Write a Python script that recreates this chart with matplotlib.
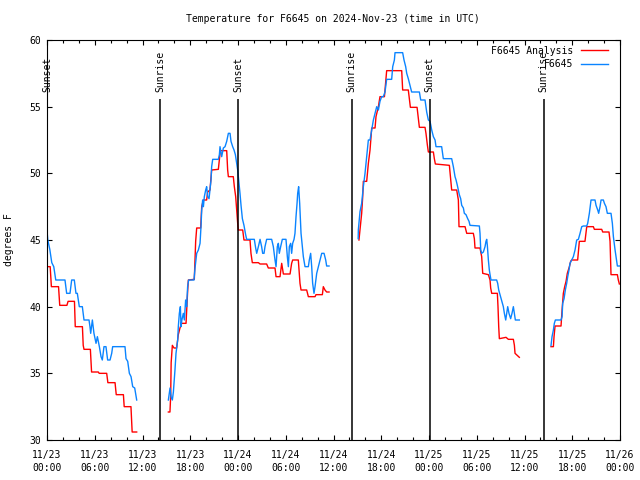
import numpy as np
import matplotlib
matplotlib.use("Agg")
import matplotlib.pyplot as plt

nan = np.nan

# hours since 2024-11-23 00:00 UTC
analysis_hours = [
    0.0, 0.4, 0.55, 1.45, 1.6, 2.5, 2.65, 3.45, 3.55, 4.45, 4.55, 4.65, 5.45, 5.6, 6.45, 6.55,
    7.5, 7.65, 8.55, 8.7, 9.6, 9.7, 10.55, 10.7, 11.27, nan,
    15.25, 15.45, 15.54, 15.6, 15.75, 15.96, 16.29, 16.5, 16.71, 16.92, 17.47, 17.55, 17.68,
    17.76, 18.51, 18.68, 18.81, 19.31, 19.44, 19.65, 20.06, 20.19, 20.48, 20.69, 21.53, 21.66,
    21.78, 22.58, 22.7, 22.79, 23.41, 23.54, 23.71, 23.83, 23.96, 24.04, 24.59, 24.75, 25.51,
    25.63, 25.8, 26.56, 26.77, 27.6, 27.81, 28.65, 28.78, 29.28, 29.49, 29.7, 30.54, 30.74,
    30.87, 31.58, 31.79, 31.92, 32.63, 32.84, 33.68, 33.8, 34.6, 34.72, 34.93, 35.14, 35.44, nan,
    39.2, 39.33, 39.54, 39.67, 39.75, 40.17, 40.38, 40.59, 40.68, 40.8, 41.22, 41.34, 41.64,
    41.84, 42.4, 42.55, 42.68, 44.57, 44.69, 45.4, 45.5, 45.66, 46.5, 46.66, 46.79, 47.5, 47.62,
    47.8, 47.92, 48.55, 48.67, 48.8, 50.56, 50.72, 50.85, 51.48, 51.69, 51.77, 52.53, 52.74,
    53.57, 53.7, 53.78, 54.41, 54.62, 54.75, 55.46, 55.67, 55.75, 55.88, 56.59, 56.67, 56.76,
    56.84, 57.68, 57.97, 58.6, 58.73, 58.81, 59.35, nan,
    63.33, 63.63, 63.71, 63.84, 64.59, 64.72, 64.88, 65.05, 65.22, 65.38, 65.64, 65.8, 65.93,
    66.68, 66.89, 67.6, 67.82, 68.65, 68.78, 69.7, 69.83, 70.62, 70.75, 70.87, 71.67, 71.79, 71.92,
]
analysis_temps = [
    43.0, 43.0, 41.5, 41.5, 40.1, 40.1, 40.4, 40.4, 38.5, 38.5, 37.1, 36.8, 36.8, 35.1, 35.1, 35.0,
    35.0, 34.3, 34.3, 33.4, 33.4, 32.5, 32.5, 30.6, 30.6, nan,
    32.1, 32.1, 33.3, 35.8, 37.1, 36.9, 36.9, 37.9, 38.4, 38.75, 38.75, 39.75, 41.25,
    42.0, 42.05, 44.9, 45.9, 45.9, 47.5, 48.0, 48.0, 48.6, 48.75, 50.25, 50.3, 51.0,
    51.7, 51.7, 50.25, 49.75, 49.75, 49.0, 48.25, 47.25, 46.25, 45.75, 45.75, 45.0, 45.0,
    44.0, 43.3, 43.3, 43.2, 43.2, 42.9, 42.9, 42.25, 42.25, 43.25, 42.45, 42.45, 43.25,
    43.5, 43.5, 41.75, 41.25, 41.25, 40.75, 40.75, 40.9, 40.9, 41.5, 41.25, 41.1, 41.1, nan,
    45.0, 45.75, 47.0, 48.25, 49.4, 49.4, 50.75, 51.75, 52.5, 53.4, 53.4, 54.25, 55.0,
    55.75, 55.75, 56.75, 57.7, 57.7, 56.25, 56.25, 55.75, 54.95, 54.95, 54.1, 53.45, 53.45, 53.0,
    52.1, 51.6, 51.6, 51.1, 50.7, 50.6, 49.6, 48.75, 48.75, 48.0, 46.0, 46.0, 45.5,
    45.5, 45.1, 44.4, 44.4, 43.75, 42.5, 42.4, 42.0, 41.4, 41.0, 41.0, 40.0, 38.5,
    37.6, 37.7, 37.55, 37.55, 37.1, 36.5, 36.2, nan,
    37.0, 37.0, 37.75, 38.55, 38.55, 39.75, 41.0, 41.5, 41.9, 42.5, 43.0, 43.4, 43.5,
    43.5, 44.9, 44.9, 46.0, 46.0, 45.8, 45.8, 45.6, 45.6, 44.9, 42.4, 42.4, 42.0, 41.7,
]

obs_hours = [
    0.0, 0.1, 0.35, 0.6, 0.85, 1.1, 2.26, 2.47, 2.89, 3.1, 3.43, 3.64, 3.81, 4.06, 4.44, 4.65,
    5.28, 5.4, 5.49, 5.7, 5.9, 6.16, 6.33, 6.58, 6.79, 6.95, 7.16, 7.41, 7.62, 7.92, 8.13, 8.25,
    9.8, 9.93, 10.14, 10.35, 10.56, 10.77, 11.02, 11.27, nan,
    15.25, 15.46, 15.6, 15.75, 15.88, 16.08, 16.21, 16.42, 16.5, 16.63, 16.76, 16.84, 16.95,
    17.13, 17.26, 17.42, 17.55, 17.67, 17.8, 18.47, 18.6, 18.81, 19.02, 19.23, 19.35, 19.44,
    19.56, 19.65, 19.77, 19.94, 20.06, 20.19, 20.36, 20.48, 20.61, 20.69, 20.82, 21.53, 21.66,
    21.74, 21.95, 22.16, 22.37, 22.58, 22.79, 23.0, 23.12, 23.33, 23.5, 23.67, 23.83, 23.96,
    24.13, 24.25, 24.38, 24.55, 24.75, 24.96, 25.09, 26.05, 26.22, 26.35, 26.56, 26.77, 26.97,
    27.1, 27.27, 27.39, 27.6, 28.23, 28.44, 28.65, 28.78, 28.94, 29.07, 29.19, 29.36, 29.57,
    30.03, 30.2, 30.33, 30.45, 30.62, 30.74, 30.87, 31.04, 31.16, 31.29, 31.42, 31.5, 31.62,
    31.75, 31.92, 32.09, 32.21, 32.42, 32.84, 32.96, 33.13, 33.26, 33.38, 33.55, 33.68, 33.89,
    34.1, 34.3, 34.52, 34.81, 35.02, 35.14, 35.44, nan,
    39.1, 39.12, 39.33, 39.54, 39.75, 39.96, 40.17, 40.38, 40.59, 40.8, 41.01, 41.22, 41.43,
    41.64, 41.84, 42.05, 42.26, 42.47, 42.68, 43.31, 43.44, 43.65, 43.73, 44.69, 44.86, 45.07,
    45.2, 45.4, 45.61, 45.82, 46.79, 46.96, 47.5, 47.71, 47.92, 48.13, 48.34, 48.55, 48.76,
    48.88, 49.59, 49.8, 50.85, 51.06, 51.27, 51.4, 51.56, 51.81, 51.98, 52.11, 52.32, 52.44,
    52.65, 52.86, 53.03, 53.15, 54.33, 54.41, 54.5, 54.62, 54.83, 55.04, 55.16, 55.25, 55.33,
    55.46, 55.58, 55.67, 55.79, 56.5, 56.63, 56.76, 56.92, 57.05, 57.22, 57.34, 57.47, 57.64,
    57.76, 57.89, 58.05, 58.26, 58.43, 58.6, 58.73, 58.85, 59.35, nan,
    63.33, 63.46, 63.63, 63.75, 63.88, 64.59, 64.72, 64.8, 64.97, 65.13, 65.3, 65.43, 65.59,
    65.72, 65.93, 66.14, 66.35, 66.56, 66.77, 66.98, 67.19, 67.4, 67.82, 67.94, 68.15, 68.36,
    68.86, 68.99, 69.2, 69.32, 69.49, 69.62, 69.91, 70.04, 70.24, 70.41, 70.87, 71.04, 71.17,
    71.38, 71.5, 71.67, 72.0,
]
obs_temps = [
    45.7, 45.0, 44.3, 43.3, 43.0, 42.0, 42.0, 41.0, 41.0, 42.0, 42.0, 41.0, 41.0, 40.0, 40.0, 39.0,
    39.0, 38.5, 38.0, 39.0, 38.0, 37.25, 37.75, 37.0, 36.25, 36.0, 37.0, 37.0, 36.0, 36.0, 36.5, 37.0,
    37.0, 36.1, 35.9, 35.0, 34.75, 34.0, 33.9, 33.0, nan,
    33.0, 33.9, 33.2, 33.0, 33.6, 35.25, 36.5, 37.5, 38.5, 39.5, 40.0, 38.5, 39.0,
    39.5, 39.0, 40.5, 40.0, 41.5, 42.0, 42.0, 42.9, 44.0, 44.25, 44.75, 46.0, 47.25,
    48.0, 47.5, 48.25, 48.75, 49.0, 48.25, 48.1, 48.75, 49.5, 50.5, 51.05, 51.05, 51.4,
    52.0, 51.25, 51.9, 52.0, 52.4, 53.0, 53.0, 52.4, 52.0, 51.75, 51.4, 50.75, 50.25,
    49.25, 48.5, 47.6, 46.6, 46.1, 45.4, 45.05, 45.05, 44.4, 44.0, 44.5, 45.05, 44.5,
    44.0, 44.0, 44.5, 45.05, 45.05, 44.5, 43.5, 43.0, 44.5, 44.75, 44.0, 44.5, 45.05,
    45.05, 43.75, 43.0, 44.5, 44.75, 44.0, 44.75, 45.05, 45.5, 46.75, 47.75, 48.5, 49.0,
    47.75, 45.5, 44.5, 43.75, 43.0, 43.0, 43.5, 44.0, 43.0, 41.75, 41.0, 41.5, 42.5,
    43.0, 43.5, 44.0, 44.0, 43.5, 43.05, 43.05, nan,
    45.1, 45.75, 47.13, 47.75, 49.0, 50.0, 51.25, 52.5, 52.5, 53.25, 54.0, 54.5, 55.0,
    54.75, 55.4, 55.75, 55.75, 56.1, 57.05, 57.05, 58.0, 58.5, 59.05, 59.05, 58.5, 58.0,
    57.5, 57.1, 56.6, 56.1, 56.1, 55.5, 55.5, 54.6, 54.0, 53.9, 53.25, 52.75, 52.5,
    52.0, 52.0, 51.1, 51.1, 50.5, 49.75, 49.5, 49.1, 48.4, 48.1, 47.6, 47.4, 47.0,
    46.9, 46.6, 46.4, 46.1, 46.05, 45.5, 44.25, 44.0, 44.1, 44.5, 44.9, 45.05, 44.6,
    43.5, 42.75, 42.4, 42.0, 42.0, 41.75, 41.25, 40.9, 40.6, 40.25, 40.0, 39.5, 39.0,
    39.5, 40.0, 39.5, 39.1, 39.5, 40.0, 39.5, 39.0, 39.0, nan,
    37.08, 37.75, 38.25, 38.75, 39.0, 39.0, 39.25, 40.25, 40.6, 41.25, 41.75, 42.25, 42.75,
    43.25, 43.5, 43.75, 44.25, 45.0, 45.05, 45.5, 46.0, 46.05, 46.05, 46.25, 47.0, 48.0,
    48.0, 47.6, 47.25, 47.0, 47.5, 48.0, 48.0, 47.75, 47.5, 47.0, 47.0, 46.25, 45.25,
    44.25, 43.75, 43.05, 43.05,
]

sunset_hours = [0.0, 24.0, 48.1]
sunrise_hours = [14.2, 38.3, 62.4]

tick_hours = list(range(0, 73, 6))
tick_labels = ["11/23\n00:00", "11/23\n06:00", "11/23\n12:00", "11/23\n18:00",
               "11/24\n00:00", "11/24\n06:00", "11/24\n12:00", "11/24\n18:00",
               "11/25\n00:00", "11/25\n06:00", "11/25\n12:00", "11/25\n18:00",
               "11/26\n00:00"]

plt.rcParams["font.family"] = ["DejaVu Sans Mono"]
plt.rcParams["font.size"] = 7

fig = plt.figure(figsize=(6.4, 4.8), dpi=100)
ax = fig.add_axes([47 / 640, 40 / 480, 573 / 640, 400 / 480])

ax.plot(analysis_hours, analysis_temps, color="#ff0000", linewidth=1.0, label="F6645 Analysis")
ax.plot(obs_hours, obs_temps, color="#0a84ff", linewidth=1.0, label="F6645")

for h in sunset_hours:
    ax.vlines(h, 30, 55.6, color="black", linewidth=1.1)
    ax.text(h, 56.1, "Sunset", rotation=90, ha="center", va="bottom")
for h in sunrise_hours:
    ax.vlines(h, 30, 55.6, color="black", linewidth=1.1)
    ax.text(h, 56.1, "Sunrise", rotation=90, ha="center", va="bottom")

ax.set_xlim(0, 72)
ax.set_ylim(30, 60)
ax.set_xticks(tick_hours)
ax.set_xticklabels(tick_labels, linespacing=1.35)
ax.set_xticks(range(0, 73, 2), minor=True)
ax.set_yticks(range(30, 61, 5))
ax.tick_params(which="both", direction="in", top=True, right=True, width=0.8)
ax.tick_params(which="major", length=3.5, pad=4)
ax.tick_params(axis="x", which="major", pad=7)
ax.tick_params(which="minor", length=2.2)
for spine in ax.spines.values():
    spine.set_linewidth(0.8)

ax.set_ylabel("degrees F")
ax.yaxis.set_label_coords(-0.057, 0.5)
fig.text(333 / 640, 1 - 19 / 480, "Temperature for F6645 on 2024-Nov-23 (time in UTC)",
         ha="center", va="center")

ax.legend(loc="upper right", bbox_to_anchor=(0.99, 1.0), frameon=False, markerfirst=False,
          handlelength=2.8, handletextpad=0.8, labelspacing=0.35, borderaxespad=0.2)

fig.savefig("out.png", dpi=100)
